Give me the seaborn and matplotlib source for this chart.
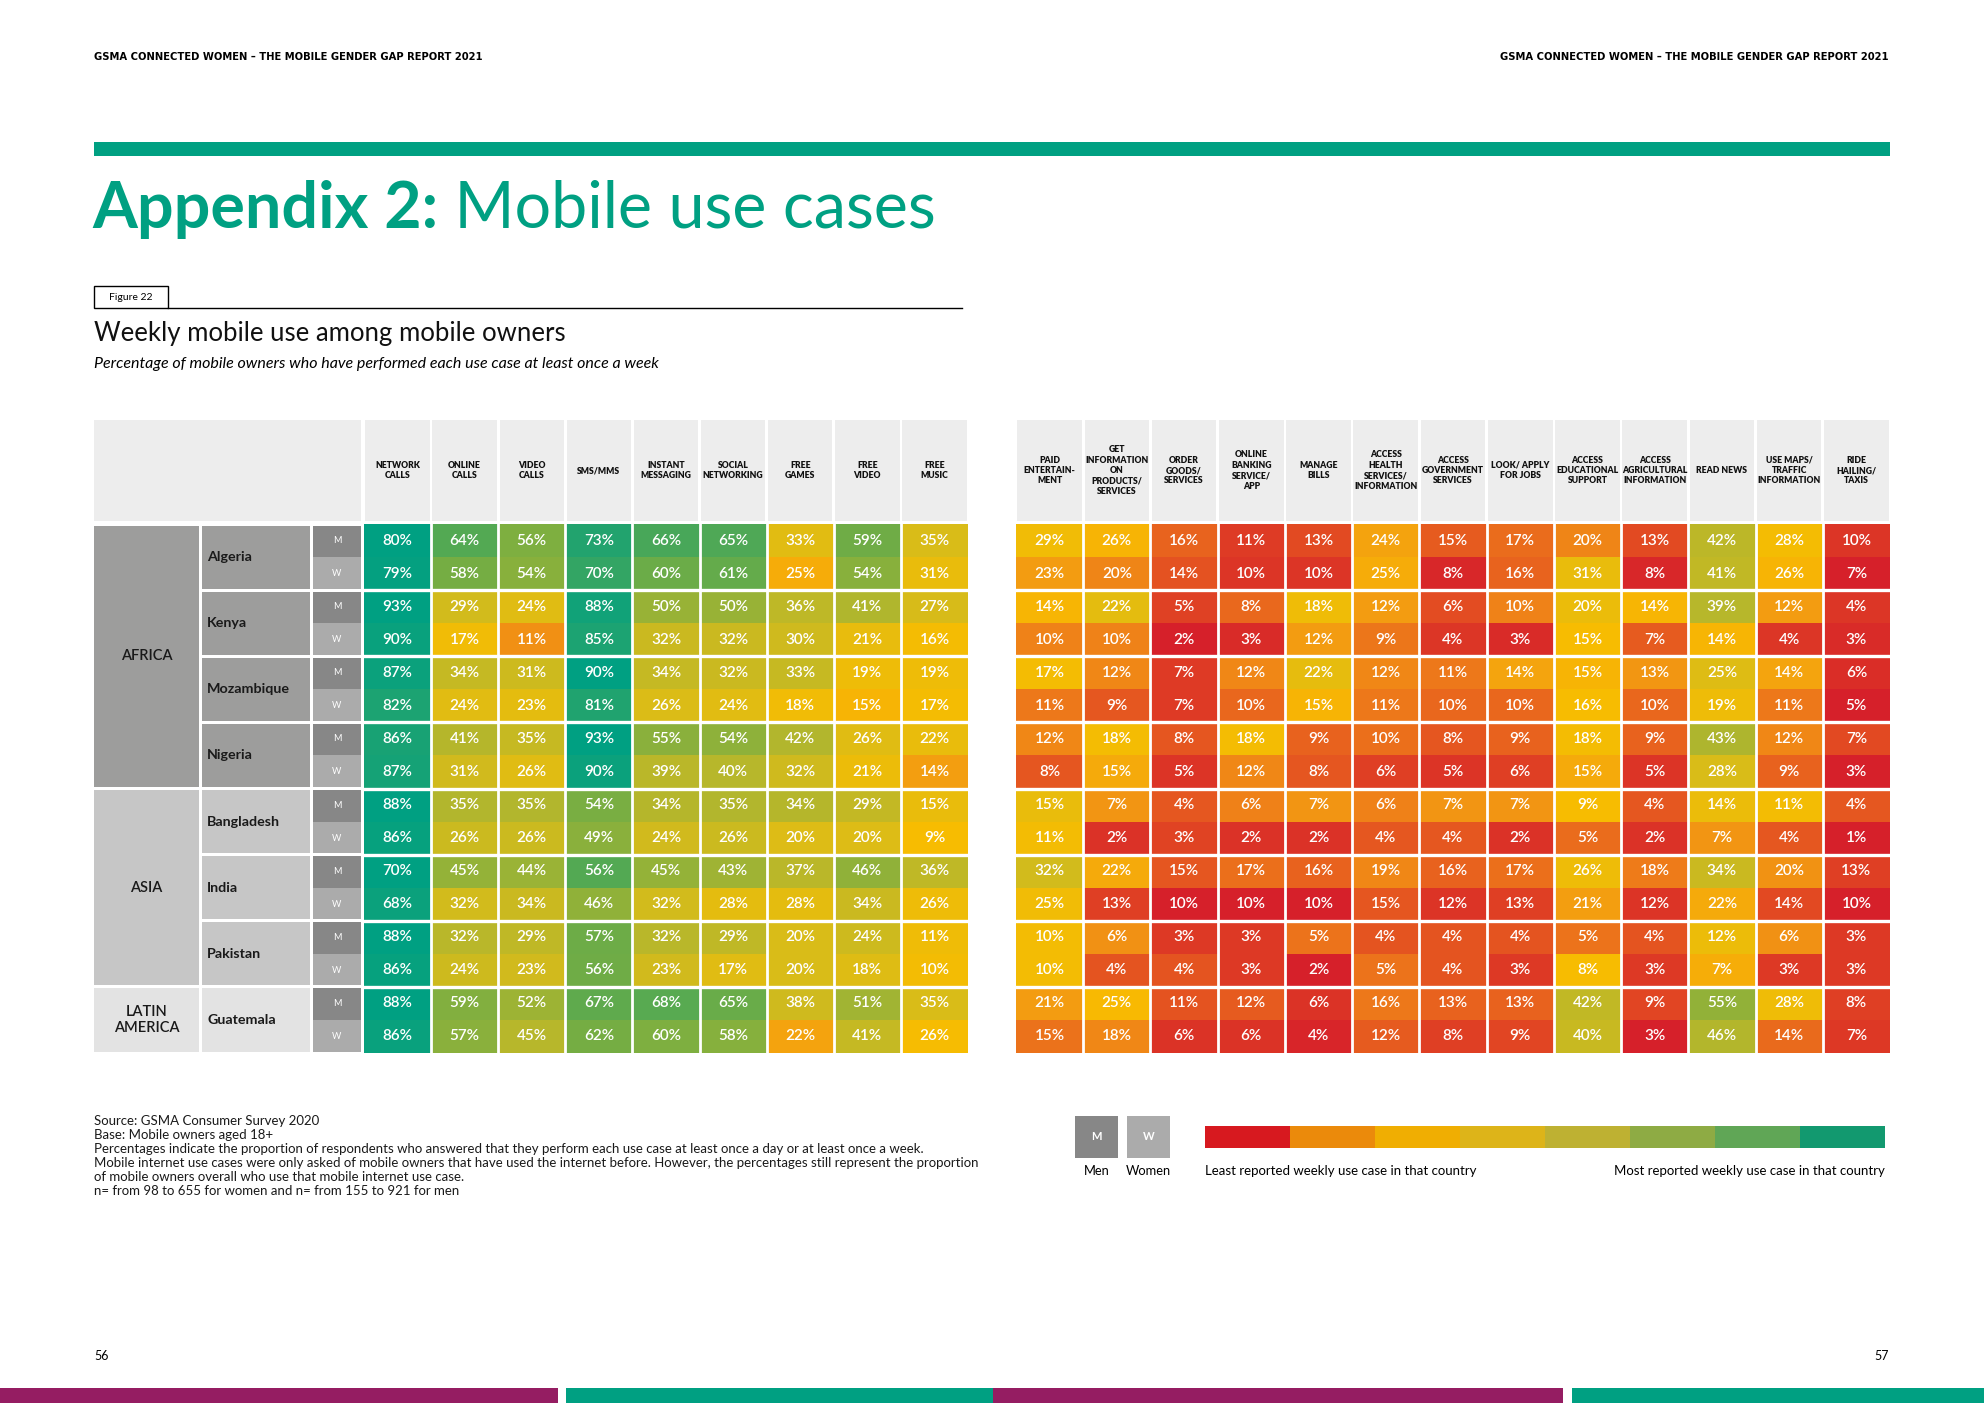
import numpy as np
import pandas as pd
import matplotlib.pyplot as plt
import seaborn as sns
from matplotlib.colors import LinearSegmentedColormap, ListedColormap
from matplotlib.patches import Rectangle

# ============================================
# DATA
# ============================================
regions = ["AFRICA", "ASIA", "LATIN\nAMERICA"]
region_countries = [["Algeria", "Kenya", "Mozambique", "Nigeria"],
                    ["Bangladesh", "India", "Pakistan"],
                    ["Guatemala"]]
genders = ["M", "W"]

left_cases = ["NETWORK\nCALLS", "ONLINE\nCALLS", "VIDEO\nCALLS", "SMS/MMS",
              "INSTANT\nMESSAGING", "SOCIAL\nNETWORKING", "FREE\nGAMES",
              "FREE\nVIDEO", "FREE\nMUSIC"]
right_cases = ["PAID\nENTERTAIN-\nMENT", "GET\nINFORMATION\nON\nPRODUCTS/\nSERVICES",
               "ORDER\nGOODS/\nSERVICES", "ONLINE\nBANKING\nSERVICE/\nAPP",
               "MANAGE\nBILLS", "ACCESS\nHEALTH\nSERVICES/\nINFORMATION",
               "ACCESS\nGOVERNMENT\nSERVICES", "LOOK/ APPLY\nFOR JOBS",
               "ACCESS\nEDUCATIONAL\nSUPPORT", "ACCESS\nAGRICULTURAL\nINFORMATION",
               "READ NEWS", "USE MAPS/\nTRAFFIC\nINFORMATION", "RIDE\nHAILING/\nTAXIS"]

# one list per row (country x gender), left 9 use cases then right 13
algeria_m    = [80, 64, 56, 73, 66, 65, 33, 59, 35, 29, 26, 16, 11, 13, 24, 15, 17, 20, 13, 42, 28, 10]
algeria_w    = [79, 58, 54, 70, 60, 61, 25, 54, 31, 23, 20, 14, 10, 10, 25, 8, 16, 31, 8, 41, 26, 7]
kenya_m      = [93, 29, 24, 88, 50, 50, 36, 41, 27, 14, 22, 5, 8, 18, 12, 6, 10, 20, 14, 39, 12, 4]
kenya_w      = [90, 17, 11, 85, 32, 32, 30, 21, 16, 10, 10, 2, 3, 12, 9, 4, 3, 15, 7, 14, 4, 3]
mozambique_m = [87, 34, 31, 90, 34, 32, 33, 19, 19, 17, 12, 7, 12, 22, 12, 11, 14, 15, 13, 25, 14, 6]
mozambique_w = [82, 24, 23, 81, 26, 24, 18, 15, 17, 11, 9, 7, 10, 15, 11, 10, 10, 16, 10, 19, 11, 5]
nigeria_m    = [86, 41, 35, 93, 55, 54, 42, 26, 22, 12, 18, 8, 18, 9, 10, 8, 9, 18, 9, 43, 12, 7]
nigeria_w    = [87, 31, 26, 90, 39, 40, 32, 21, 14, 8, 15, 5, 12, 8, 6, 5, 6, 15, 5, 28, 9, 3]
bangladesh_m = [88, 35, 35, 54, 34, 35, 34, 29, 15, 15, 7, 4, 6, 7, 6, 7, 7, 9, 4, 14, 11, 4]
bangladesh_w = [86, 26, 26, 49, 24, 26, 20, 20, 9, 11, 2, 3, 2, 2, 4, 4, 2, 5, 2, 7, 4, 1]
india_m      = [70, 45, 44, 56, 45, 43, 37, 46, 36, 32, 22, 15, 17, 16, 19, 16, 17, 26, 18, 34, 20, 13]
india_w      = [68, 32, 34, 46, 32, 28, 28, 34, 26, 25, 13, 10, 10, 10, 15, 12, 13, 21, 12, 22, 14, 10]
pakistan_m   = [88, 32, 29, 57, 32, 29, 20, 24, 11, 10, 6, 3, 3, 5, 4, 4, 4, 5, 4, 12, 6, 3]
pakistan_w   = [86, 24, 23, 56, 23, 17, 20, 18, 10, 10, 4, 4, 3, 2, 5, 4, 3, 8, 3, 7, 3, 3]
guatemala_m  = [88, 59, 52, 67, 68, 65, 38, 51, 35, 21, 25, 11, 12, 6, 16, 13, 13, 42, 9, 55, 28, 8]
guatemala_w  = [86, 57, 45, 62, 60, 58, 22, 41, 26, 15, 18, 6, 6, 4, 12, 8, 9, 40, 3, 46, 14, 7]

rows = [algeria_m, algeria_w, kenya_m, kenya_w, mozambique_m, mozambique_w,
        nigeria_m, nigeria_w, bangladesh_m, bangladesh_w, india_m, india_w,
        pakistan_m, pakistan_w, guatemala_m, guatemala_w]

region_fill = ["#9d9d9c", "#c6c6c6", "#e3e3e3"]
legend_colors = ["#d7191f", "#eb8a0b", "#f0ae02", "#ddb419",
                 "#beb132", "#8eab44", "#60a656", "#12996f"]

TEAL = "#00a082"
PURPLE = "#951d62"

# ============================================
# COLOUR SCALE (min -> median -> max within each country)
# ============================================
values = np.array(rows)
n_rows = values.shape[0]


def country_scale(block):
    lo, mid, hi = block.min(), np.median(block), block.max()
    return np.where(block <= mid,
                    0.5 * (block - lo) / (mid - lo),
                    0.5 + 0.5 * (block - mid) / (hi - mid))


norm = np.vstack([country_scale(values[i:i + 2].astype(float))
                  for i in range(0, n_rows, 2)])
labels = np.vectorize(lambda v: f"{v}%")(values)

cmap = LinearSegmentedColormap.from_list("gsma", [
    (0.00, "#d6202a"), (0.15, "#e24a22"), (0.30, "#ee7d19"),
    (0.42, "#f4a20f"), (0.50, "#f8bc00"), (0.57, "#dcbc16"),
    (0.65, "#b9b72a"), (0.73, "#96b237"), (0.81, "#6cac47"),
    (0.89, "#3ca65f"), (1.00, "#00a082")])

nl = len(left_cases)
df_left = pd.DataFrame(norm[:, :nl], columns=left_cases)
df_right = pd.DataFrame(norm[:, nl:], columns=right_cases)

# ============================================
# LAYOUT (pixels)
# ============================================
W, H = 1984, 1403
TAB_TOP, TAB_BOT = 524, 1053
HEAD_TOP, HEAD_BOT = 420, 521
L_X0, L_X1 = 364, 968
R_X0, R_X1 = 1016, 1890
REG_X = (94, 199)
CTRY_X = (202, 310)
MW_X = (313, 361)
row_h = (TAB_BOT - TAB_TOP) / n_rows

SANS = ["Lato", "DejaVu Sans"]

fig = plt.figure(figsize=(W / 100, H / 100), dpi=100)
bg = fig.add_axes([0, 0, 1, 1])
bg.set_xlim(0, W)
bg.set_ylim(H, 0)
bg.axis("off")


def px_axes(x0, y0, x1, y1):
    return fig.add_axes([x0 / W, 1 - y1 / H, (x1 - x0) / W, (y1 - y0) / H])


# --- page header / title ---
page_head = "GSMA CONNECTED WOMEN – THE MOBILE GENDER GAP REPORT 2021"
bg.text(94, 57, page_head, fontsize=7.2, fontweight="bold",
        family="DejaVu Sans", va="center", ha="left")
bg.text(1889, 57, page_head, fontsize=7.2, fontweight="bold",
        family="DejaVu Sans", va="center", ha="right")
bg.add_patch(Rectangle((94, 142), 1796, 14, color=TEAL, lw=0))
t1 = bg.text(92, 228, "Appendix 2:", fontsize=46.5, fontweight="bold",
             color=TEAL, family=SANS, va="baseline", ha="left")
bg.annotate(" Mobile use cases", xy=(1, 0), xycoords=t1, fontsize=46.5,
            color=TEAL, family=SANS, va="bottom", ha="left")

# --- figure label ---
bg.add_patch(Rectangle((94, 286), 74, 22, fill=False, ec="black", lw=1))
bg.text(131, 297, "Figure 22", fontsize=7.5, family=SANS, ha="center", va="center")
bg.plot([168, 962], [308, 308], color="black", lw=1)
bg.text(94, 333, "Weekly mobile use among mobile owners", fontsize=18.5,
        family=SANS, va="center", ha="left", color="#111111")
bg.text(94, 364, "Percentage of mobile owners who have performed each use case at least once a week",
        fontsize=11.5, family=SANS, style="italic", va="center", ha="left")

# --- column headers ---
bg.add_patch(Rectangle((REG_X[0], HEAD_TOP), MW_X[1] - REG_X[0], HEAD_BOT - HEAD_TOP,
                       color="#ededed", lw=0))
for x0, x1, cases in [(L_X0, L_X1, left_cases), (R_X0, R_X1, right_cases)]:
    cw = (x1 - x0) / len(cases)
    for j, name in enumerate(cases):
        bg.add_patch(Rectangle((x0 + j * cw + 1.3, HEAD_TOP), cw - 2.6,
                               HEAD_BOT - HEAD_TOP, color="#ededed", lw=0))
        bg.text(x0 + (j + 0.5) * cw, (HEAD_TOP + HEAD_BOT) / 2, name,
                fontsize=6.2, fontweight="heavy", family=SANS,
                ha="center", va="center", linespacing=1.2, color="#111111")

# --- row labels: region / country / gender ---
row = 0
for reg, ctrs, fill in zip(regions, region_countries, region_fill):
    ry0 = TAB_TOP + row * row_h
    ry1 = ry0 + len(ctrs) * 2 * row_h
    bg.add_patch(Rectangle((REG_X[0], ry0 + 1.5), REG_X[1] - REG_X[0],
                           ry1 - ry0 - 3, color=fill, lw=0))
    bg.text((REG_X[0] + REG_X[1]) / 2, (ry0 + ry1) / 2, reg, fontsize=10.5,
            family=SANS, fontweight="semibold", ha="center", va="center",
            color="#1a1a1a", linespacing=1.2)
    for ctry in ctrs:
        cy0 = TAB_TOP + row * row_h
        bg.add_patch(Rectangle((CTRY_X[0], cy0 + 1.5), CTRY_X[1] - CTRY_X[0],
                               2 * row_h - 3, color=fill, lw=0))
        bg.text(CTRY_X[0] + 5, cy0 + row_h, ctry, fontsize=10.3, family=SANS,
                fontweight="bold", ha="left", va="center", color="#1a1a1a")
        for g in genders:
            gy0 = TAB_TOP + row * row_h
            top = gy0 + (1.5 if g == "M" else 0)
            bot = gy0 + row_h - (0 if g == "M" else 1.5)
            bg.add_patch(Rectangle((MW_X[0], top), MW_X[1] - MW_X[0], bot - top,
                                   color="#878787" if g == "M" else "#ababab", lw=0))
            bg.text((MW_X[0] + MW_X[1]) / 2, gy0 + row_h / 2, g, fontsize=6.5,
                    family=SANS, color="white", ha="center", va="center")
            row += 1

# --- heatmaps ---
annot_kws = dict(color="white", fontsize=11, family=SANS, fontweight="semibold")
for x0, x1, df, lab in [(L_X0, L_X1, df_left, labels[:, :nl]),
                        (R_X0, R_X1, df_right, labels[:, nl:])]:
    ax = px_axes(x0, TAB_TOP, x1, TAB_BOT)
    sns.heatmap(df, ax=ax, cmap=cmap, vmin=0, vmax=1, cbar=False,
                annot=lab, fmt="", annot_kws=annot_kws,
                xticklabels=False, yticklabels=False)
    for j in range(1, df.shape[1]):
        ax.axvline(j, color="white", lw=2)
    for k in range(2, n_rows, 2):
        ax.axhline(k, color="white", lw=2.4)

# --- footnotes ---
notes = ["Source: GSMA Consumer Survey 2020",
         "Base: Mobile owners aged 18+",
         "Percentages indicate the proportion of respondents who answered that they perform each use case at least once a day or at least once a week.",
         "Mobile internet use cases were only asked of mobile owners that have used the internet before. However, the percentages still represent the proportion",
         "of mobile owners overall who use that mobile internet use case.",
         "n= from 98 to 655 for women and n= from 155 to 921 for men"]
for i, line in enumerate(notes):
    bg.text(94, 1121 + i * 14, line, fontsize=9.5, family=SANS,
            ha="left", va="center", color="#1a1a1a")

# --- legend ---
for x0, g, name in [(1075, "M", "Men"), (1127, "W", "Women")]:
    bg.add_patch(Rectangle((x0, 1116), 43, 42,
                           color="#878787" if g == "M" else "#ababab", lw=0))
    bg.text(x0 + 21.5, 1137, g, fontsize=8, family=SANS, color="white",
            ha="center", va="center", fontweight="bold")
    bg.text(x0 + 21.5, 1171, name, fontsize=9.3, family=SANS,
            ha="center", va="center")
axl = px_axes(1205, 1126, 1885, 1148)
sns.heatmap(np.arange(len(legend_colors))[None, :], ax=axl,
            cmap=ListedColormap(legend_colors), cbar=False,
            xticklabels=False, yticklabels=False)
bg.text(1205, 1171, "Least reported weekly use case in that country",
        fontsize=9.5, family=SANS, ha="left", va="center")
bg.text(1885, 1171, "Most reported weekly use case in that country",
        fontsize=9.5, family=SANS, ha="right", va="center")

# --- page footer ---
bg.text(94, 1356, "56", fontsize=9, family=SANS, ha="left", va="center")
bg.text(1889, 1356, "57", fontsize=9, family=SANS, ha="right", va="center")
for x0, x1, col in [(0, 558, PURPLE), (566, 993, TEAL),
                    (993, 1563, PURPLE), (1572, 1984, TEAL)]:
    bg.add_patch(Rectangle((x0, 1388), x1 - x0, 15, color=col, lw=0))

fig.savefig("out.png", dpi=100)
